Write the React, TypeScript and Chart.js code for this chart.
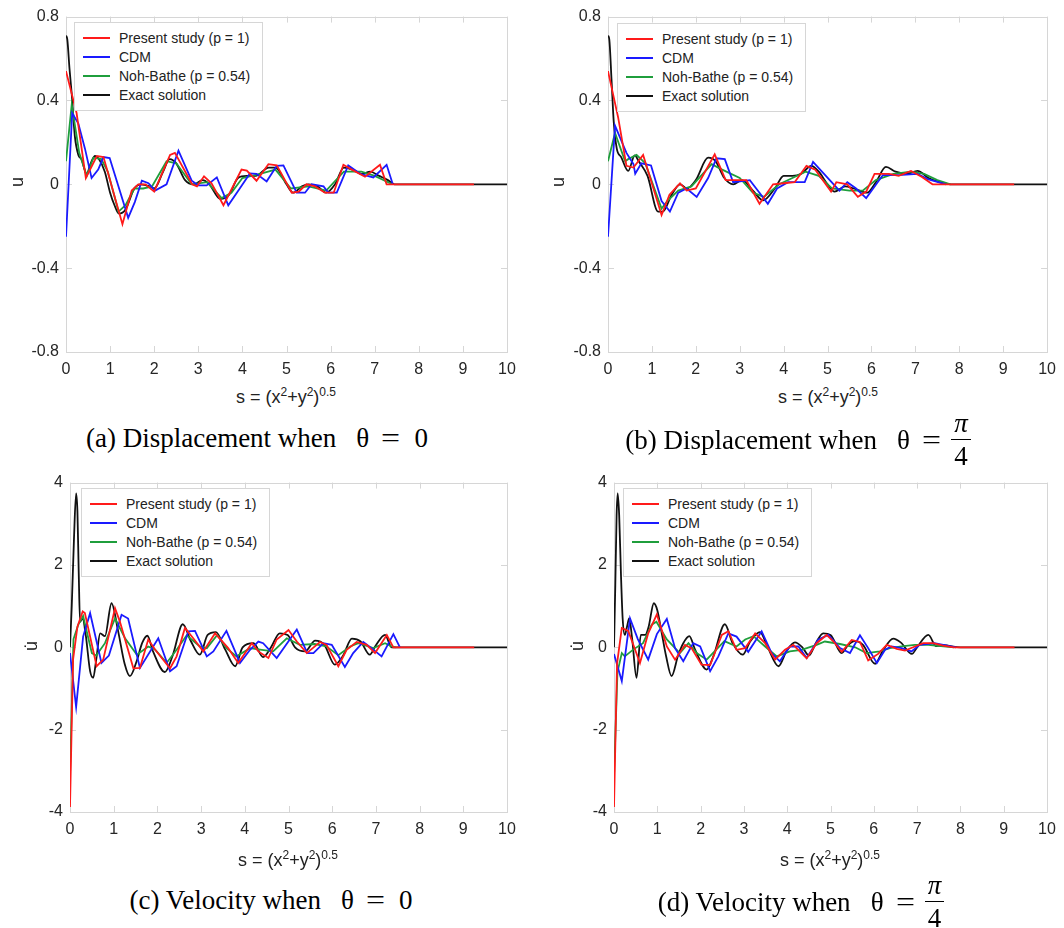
import React, { useEffect, useRef } from 'react';
import { Chart, registerables } from 'chart.js';

Chart.register(...registerables);

type Pt = [number, number];

const S_TICKS = [0, 1, 2, 3, 4, 5, 6, 7, 8, 9, 10];
const U_TICKS = [-0.8, -0.4, 0, 0.4, 0.8];
const V_TICKS = [-4, -2, 0, 2, 4];
const SERIES_LABELS = ['Present study (p = 1)', 'CDM', 'Noh-Bathe (p = 0.54)', 'Exact solution'];
const SERIES_COLORS = ['#ff1a1a', '#1a1aff', '#1f9e3c', '#111111'];

// (a) displacement, theta = 0
const A_PRESENT: Pt[] = [[0,0.54],[0.24,0.34],[0.45,0.03],[0.7,0.135],[0.85,0.13],[1.28,-0.19],[1.49,-0.03],[1.64,0],[1.8,0],[2.0,-0.035],[2.36,0.14],[2.47,0.15],[2.86,0],[2.97,-0.01],[3.13,0.038],[3.3,0.005],[3.57,-0.1],[3.98,0.07],[4.1,0.065],[4.32,0.017],[4.59,0.096],[4.78,0.09],[5.12,-0.04],[5.28,-0.035],[5.45,0],[5.65,-0.01],[5.87,-0.04],[6.07,-0.04],[6.29,0.093],[6.48,0.07],[6.78,0.036],[7.12,0.093],[7.27,0],[9.25,0]];
const A_CDM: Pt[] = [[0,-0.25],[0.14,0.34],[0.28,0.29],[0.43,0.17],[0.58,0.03],[0.73,0.07],[0.85,0.13],[0.99,0.125],[1.41,-0.16],[1.56,-0.085],[1.72,0.017],[1.87,0.005],[2.02,-0.03],[2.28,0],[2.55,0.16],[2.85,0.017],[3.0,-0.005],[3.19,-0.005],[3.42,0.033],[3.68,-0.1],[3.94,-0.02],[4.17,0.052],[4.32,0.05],[4.55,0.014],[4.78,0.088],[4.93,0.09],[5.23,-0.04],[5.42,-0.04],[5.57,0],[5.84,-0.01],[5.95,-0.04],[6.14,-0.04],[6.4,0.09],[6.67,0.05],[6.97,0.033],[7.27,0.093],[7.41,0]];
const A_NOH: Pt[] = [[0,0.11],[0.13,0.38],[0.3,0.15],[0.47,0.04],[0.62,0.127],[0.8,0.12],[0.95,0.06],[1.19,-0.13],[1.35,-0.1],[1.55,-0.02],[1.75,-0.02],[1.95,-0.01],[2.28,0.11],[2.5,0.1],[2.85,0],[3.2,0.01],[3.53,-0.066],[3.75,-0.04],[4.0,0.03],[4.4,0.05],[4.75,0.07],[5.1,-0.02],[5.5,-0.01],[5.9,-0.03],[6.3,0.06],[6.7,0.06],[7.0,0.04],[7.4,0]];
const A_EXACT: Pt[] = [[0,0.71],[0.03,0.69],[0.08,0.55],[0.13,0.43],[0.2,0.23],[0.28,0.14],[0.35,0.12],[0.47,0.05],[0.56,0.1],[0.66,0.135],[0.75,0.12],[0.88,0.06],[1.0,-0.04],[1.1,-0.1],[1.2,-0.14],[1.35,-0.12],[1.55,-0.02],[1.7,0.0],[1.9,-0.01],[2.0,-0.02],[2.2,0.06],[2.35,0.12],[2.5,0.1],[2.7,0.02],[2.9,0.0],[3.1,0.02],[3.25,0.0],[3.5,-0.07],[3.7,-0.05],[3.9,0.03],[4.1,0.04],[4.3,0.04],[4.6,0.08],[4.75,0.08],[5.0,0.0],[5.15,-0.04],[5.35,-0.01],[5.5,0.0],[5.7,-0.01],[5.9,-0.04],[6.1,0.0],[6.3,0.08],[6.5,0.07],[6.7,0.05],[6.9,0.06],[7.1,0.04],[7.3,0.02],[7.45,0],[10,0]];

// (b) displacement, theta = pi/4
const B_PRESENT: Pt[] = [[0,0.54],[0.23,0.32],[0.42,0.088],[0.58,0.08],[0.8,0.14],[1.22,-0.147],[1.4,-0.05],[1.64,0.005],[1.79,-0.03],[2.0,-0.02],[2.43,0.143],[2.68,0.02],[3.0,0.02],[3.15,0.02],[3.45,-0.093],[3.76,0],[4.0,0.005],[4.25,0.01],[4.52,0.088],[4.72,0.07],[5.08,-0.035],[5.2,0.01],[5.45,0.0],[5.69,-0.06],[5.88,-0.035],[6.07,0.05],[6.4,0.05],[6.62,0.04],[6.9,0.064],[7.15,0.035],[7.39,0],[9.25,0]];
const B_CDM: Pt[] = [[0,-0.25],[0.16,0.28],[0.42,0.15],[0.58,0.096],[0.62,0.05],[0.76,0.1],[0.98,0.09],[1.22,-0.08],[1.41,-0.13],[1.6,-0.04],[1.79,-0.02],[2.02,-0.06],[2.28,0.03],[2.47,0.124],[2.66,0.12],[2.85,0.01],[3.23,0.02],[3.45,-0.04],[3.64,-0.093],[3.85,-0.02],[4.1,0.01],[4.48,0.01],[4.67,0.107],[5.05,0.02],[5.27,-0.03],[5.45,0.01],[5.65,-0.02],[5.88,-0.066],[6.26,0.044],[6.7,0.045],[7.05,0.05],[7.28,0.025],[7.7,0]];
const B_NOH: Pt[] = [[0,0.11],[0.16,0.245],[0.39,0.11],[0.46,0.12],[0.65,0.14],[0.85,0.1],[1.22,-0.116],[1.35,-0.08],[1.6,-0.03],[1.9,-0.01],[2.36,0.096],[2.6,0.07],[3.0,0.03],[3.3,-0.04],[3.55,-0.06],[3.9,0],[4.2,0.03],[4.5,0.06],[4.8,0.04],[5.1,-0.02],[5.5,-0.03],[5.8,-0.03],[6.1,0.02],[6.5,0.05],[6.9,0.06],[7.2,0.05],[7.5,0.02],[7.8,0]];
const B_EXACT: Pt[] = [[0,0.71],[0.03,0.69],[0.08,0.5],[0.13,0.3],[0.2,0.17],[0.3,0.13],[0.46,0.064],[0.61,0.138],[0.7,0.11],[0.9,0.04],[1.14,-0.13],[1.25,-0.13],[1.45,-0.05],[1.64,0],[1.8,-0.02],[2.0,0.02],[2.28,0.127],[2.45,0.11],[2.65,0.03],[2.85,0.0],[3.05,0.02],[3.3,-0.03],[3.53,-0.077],[3.8,-0.02],[4.0,0.04],[4.2,0.04],[4.4,0.05],[4.63,0.088],[4.8,0.06],[5.0,0.0],[5.16,-0.035],[5.4,-0.01],[5.6,-0.02],[5.9,-0.04],[6.1,0.01],[6.33,0.083],[6.55,0.06],[6.8,0.05],[7.05,0.064],[7.3,0.03],[7.55,0.01],[7.8,0],[10,0]];

// (c) velocity, theta = 0
const C_PRESENT: Pt[] = [[0,-3.88],[0.07,-0.3],[0.17,0.5],[0.29,0.87],[0.34,0.83],[0.61,-0.46],[0.76,-0.3],[1.03,0.95],[1.14,0.63],[1.45,-0.51],[1.6,-0.5],[1.79,0.19],[1.95,-0.06],[2.29,-0.51],[2.44,-0.22],[2.63,0.47],[2.82,0.22],[3.05,-0.1],[3.32,0.34],[3.62,-0.02],[3.85,-0.38],[4.16,0.1],[4.31,-0.1],[4.54,-0.26],[4.73,0.19],[5.0,0.42],[5.19,0.14],[5.42,-0.14],[5.72,0.13],[5.87,0.06],[6.14,-0.46],[6.33,-0.06],[6.56,0.13],[6.79,0.06],[6.98,-0.14],[7.25,0.3],[7.4,0],[9.25,0]];
const C_CDM: Pt[] = [[0,-0.14],[0.14,-1.45],[0.3,0.26],[0.46,0.83],[0.72,-0.38],[0.89,-0.2],[1.18,0.79],[1.33,0.7],[1.6,-0.5],[2.02,0.22],[2.29,-0.58],[2.44,-0.46],[2.71,0.39],[2.86,0.4],[3.13,-0.22],[3.28,-0.1],[3.58,0.4],[3.89,-0.38],[4.12,-0.06],[4.31,0.14],[4.42,0.1],[4.73,-0.26],[5.19,0.43],[5.43,-0.14],[5.57,-0.14],[5.8,0.1],[5.99,0.06],[6.29,-0.48],[6.48,-0.14],[6.71,0.13],[6.9,-0.02],[7.13,-0.22],[7.4,0.32],[7.55,0]];
const C_NOH: Pt[] = [[0,-3.13],[0.08,0.2],[0.19,0.55],[0.3,0.76],[0.5,-0.14],[0.6,-0.2],[0.8,0.1],[1.03,0.7],[1.26,0.22],[1.53,-0.18],[1.79,0.02],[1.95,-0.06],[2.21,-0.38],[2.44,-0.06],[2.67,0.29],[2.97,0.02],[3.13,-0.02],[3.37,0.3],[3.58,-0.02],[3.81,-0.22],[4.12,-0.02],[4.39,-0.06],[4.65,-0.1],[4.96,0.22],[5.26,0.06],[5.6,0.08],[5.87,0.02],[6.14,-0.19],[6.41,0.02],[6.6,0.1],[6.94,-0.02],[7.21,0.1],[7.36,0.02],[7.45,0]];
const C_EXACT: Pt[] = [[0,0],[0.04,1.0],[0.09,2.6],[0.14,3.74],[0.17,3.3],[0.2,1.8],[0.23,0.62],[0.29,0.7],[0.36,0.3],[0.46,-0.58],[0.53,-0.74],[0.6,-0.3],[0.69,0.34],[0.8,0.27],[0.95,1.07],[1.1,0.4],[1.25,-0.4],[1.37,-0.7],[1.53,-0.32],[1.65,0.1],[1.77,0.28],[1.9,-0.1],[2.17,-0.6],[2.35,-0.2],[2.58,0.56],[2.77,0.14],[2.97,-0.18],[3.15,0.3],[3.34,0.37],[3.55,-0.05],[3.78,-0.46],[3.95,0.0],[4.2,0.1],[4.42,-0.24],[4.6,0.0],[4.8,0.34],[4.98,0.3],[5.15,0.0],[5.38,-0.1],[5.61,0.16],[5.82,0.06],[6.06,-0.42],[6.25,-0.2],[6.45,0.21],[6.65,0.14],[6.86,-0.18],[7.0,0.05],[7.21,0.3],[7.36,0],[10,0]];

// (d) velocity, theta = pi/4
const D_PRESENT: Pt[] = [[0,-3.88],[0.07,-0.4],[0.18,0.47],[0.33,0.4],[0.6,-0.38],[0.79,0.34],[0.99,0.8],[1.22,0.02],[1.41,-0.3],[1.64,0.06],[1.79,-0.02],[2.02,-0.42],[2.22,-0.43],[2.49,0.3],[2.64,0.39],[2.83,-0.06],[3.03,-0.02],[3.26,0.34],[3.49,0.1],[3.72,-0.3],[3.95,-0.06],[4.14,0.06],[4.45,-0.27],[4.68,0.1],[4.91,0.3],[5.07,0.14],[5.26,-0.11],[5.49,0.18],[5.68,0.13],[5.87,-0.32],[6.1,-0.16],[6.3,0.06],[6.53,-0.04],[6.72,-0.08],[6.95,0.02],[7.14,0.1],[7.37,0.1],[7.6,0.04],[7.85,0],[9.25,0]];
const D_CDM: Pt[] = [[0,-0.16],[0.18,-0.82],[0.37,0.7],[0.55,0.2],[0.79,-0.3],[0.99,0.32],[1.22,0.69],[1.41,-0.02],[1.6,-0.34],[1.83,0.1],[1.99,0.02],[2.22,-0.58],[2.41,-0.22],[2.64,0.34],[2.83,0.26],[3.1,-0.11],[3.41,0.39],[3.64,-0.14],[3.83,-0.34],[4.06,0.02],[4.26,0.02],[4.45,-0.26],[4.72,0.19],[4.95,0.3],[5.22,-0.02],[5.45,-0.14],[5.68,0.29],[5.87,-0.02],[6.07,-0.38],[6.26,-0.06],[6.41,0.02],[6.64,-0.02],[6.87,-0.1],[7.06,0.06],[7.4,0.1],[7.9,0]];
const D_NOH: Pt[] = [[0,-3.13],[0.08,-0.6],[0.18,-0.14],[0.25,-0.22],[0.45,-0.05],[0.67,0.1],[0.87,0.55],[0.98,0.62],[1.22,0.19],[1.52,-0.14],[1.72,0.1],[1.91,-0.14],[2.14,-0.3],[2.55,0.15],[2.83,0.02],[3.03,0.19],[3.22,0.27],[3.49,0.02],[3.76,-0.22],[4.06,-0.1],[4.33,-0.06],[4.68,0.06],[4.87,0.14],[5.22,0.08],[5.57,0],[5.83,-0.14],[6.14,-0.1],[6.37,-0.02],[6.64,0.02],[6.95,0.06],[7.26,0.06],[7.37,0.05],[7.85,0]];
const D_EXACT: Pt[] = [[0,0],[0.03,1.5],[0.06,3.2],[0.085,3.74],[0.12,3.2],[0.16,1.8],[0.2,0.7],[0.25,0.3],[0.3,0.5],[0.35,0.7],[0.42,0.2],[0.52,-0.74],[0.62,0.3],[0.72,0.3],[0.8,0.5],[0.92,1.07],[1.0,0.9],[1.1,0.36],[1.2,-0.2],[1.33,-0.7],[1.48,-0.2],[1.6,0.1],[1.74,0.27],[1.87,-0.05],[2.14,-0.54],[2.3,-0.2],[2.56,0.56],[2.74,0.1],[2.97,-0.18],[3.15,0.15],[3.37,0.37],[3.55,0.0],[3.8,-0.46],[3.98,-0.1],[4.18,0.12],[4.35,0.0],[4.5,-0.2],[4.66,0.1],[4.83,0.34],[5.0,0.3],[5.26,-0.14],[5.4,0.05],[5.56,0.15],[5.75,0.06],[6.03,-0.4],[6.2,-0.1],[6.45,0.21],[6.62,0.12],[6.88,-0.16],[7.0,0.0],[7.26,0.3],[7.44,0.03],[7.6,0.05],[8.0,0],[10,0]];

const FRAME_COLOR = '#d6d6d6';
const SANS = '"Liberation Sans", Arial, "DejaVu Sans", sans-serif';
const SERIF = '"Liberation Serif", "Times New Roman", serif';

const framePlugin = {
  id: 'frame',
  beforeDatasetsDraw(chart: any) {
    const { ctx, chartArea: a, scales } = chart;
    ctx.save();
    ctx.strokeStyle = FRAME_COLOR;
    ctx.lineWidth = 1;
    ctx.strokeRect(Math.round(a.left) + 0.5, Math.round(a.top) + 0.5, Math.round(a.right - a.left), Math.round(a.bottom - a.top));
    const tl = 6;
    ctx.beginPath();
    scales.x.ticks.forEach((t: any) => {
      const x = Math.round(scales.x.getPixelForValue(t.value)) + 0.5;
      ctx.moveTo(x, a.bottom); ctx.lineTo(x, a.bottom - tl);
      ctx.moveTo(x, a.top); ctx.lineTo(x, a.top + tl);
    });
    scales.y.ticks.forEach((t: any) => {
      const y = Math.round(scales.y.getPixelForValue(t.value)) + 0.5;
      ctx.moveTo(a.left, y); ctx.lineTo(a.left + tl, y);
      ctx.moveTo(a.right, y); ctx.lineTo(a.right - tl, y);
    });
    ctx.stroke();
    ctx.restore();
  },
};

type PanelProps = {
  left: number; top: number; w: number; h: number;
  area: { l: number; t: number; r: number; b: number };
  yTicks: number[];
  series: Pt[][];
};

function ChartPanel({ left, top, w, h, area, yTicks, series }: PanelProps) {
  const ref = useRef<HTMLCanvasElement>(null);
  useEffect(() => {
    const datasets = series.map((pts, i) => ({
      label: SERIES_LABELS[i],
      data: pts.map(([x, y]) => ({ x, y })),
      borderColor: SERIES_COLORS[i],
      backgroundColor: SERIES_COLORS[i],
      borderWidth: 1.8,
      pointRadius: 0,
      fill: false,
      tension: 0,
      cubicInterpolationMode: i === 3 ? 'monotone' : 'default',
    }));
    const tickFont = { family: SANS, size: 16 };
    const chart = new Chart(ref.current as HTMLCanvasElement, {
      type: 'line',
      data: { datasets: datasets as any },
      options: {
        animation: false,
        responsive: false,
        maintainAspectRatio: false,
        layout: { padding: { left: 0, top: area.t, right: w - area.r, bottom: 0 } },
        plugins: { legend: { display: false }, tooltip: { enabled: false } },
        scales: {
          x: {
            type: 'linear',
            min: S_TICKS[0],
            max: S_TICKS[S_TICKS.length - 1],
            afterBuildTicks: (s: any) => { s.ticks = S_TICKS.map((v) => ({ value: v })); },
            afterFit: (s: any) => { s.height = h - area.b; },
            grid: { display: false, drawTicks: false },
            border: { display: false },
            ticks: { padding: 8, color: '#262626', font: tickFont, maxRotation: 0, autoSkip: false, callback: (v: any) => String(v) },
          },
          y: {
            type: 'linear',
            min: yTicks[0],
            max: yTicks[yTicks.length - 1],
            afterBuildTicks: (s: any) => { s.ticks = yTicks.map((v) => ({ value: v })); },
            afterFit: (s: any) => { s.width = area.l; },
            grid: { display: false, drawTicks: false },
            border: { display: false },
            ticks: { padding: 7, color: '#262626', font: tickFont, autoSkip: false, callback: (v: any) => String(v) },
          },
        },
      } as any,
      plugins: [framePlugin],
    });
    return () => chart.destroy();
  }, []);
  return <canvas ref={ref} width={w} height={h} style={{ position: 'absolute', left, top, width: w, height: h }} />;
}

function Legend({ left, top }: { left: number; top: number }) {
  return (
    <div style={{ position: 'absolute', left, top, background: '#fff', border: `1px solid ${FRAME_COLOR}`, padding: '5px 12px 6px 8px', fontFamily: SANS, fontSize: 14, color: '#222', whiteSpace: 'nowrap' }}>
      {SERIES_LABELS.map((l, i) => (
        <div key={l} style={{ display: 'flex', alignItems: 'center', height: 19 }}>
          <div style={{ width: 27, height: 2, flexShrink: 0, background: SERIES_COLORS[i], marginRight: 9 }} />
          <span>{l}</span>
        </div>
      ))}
    </div>
  );
}

function XTitle({ cx, top }: { cx: number; top: number }) {
  return (
    <div style={{ position: 'absolute', left: cx - 120, width: 240, top, textAlign: 'center', fontFamily: SANS, fontSize: 18, color: '#222', lineHeight: '22px' }}>
      s = (x<sup style={{ fontSize: 12 }}>2</sup>+y<sup style={{ fontSize: 12 }}>2</sup>)<sup style={{ fontSize: 12 }}>0.5</sup>
    </div>
  );
}

function YTitle({ cx, cy, text }: { cx: number; cy: number; text: string }) {
  return (
    <div style={{ position: 'absolute', left: cx - 20, top: cy - 12, width: 40, height: 24, lineHeight: '24px', textAlign: 'center', transform: 'rotate(-90deg)', fontFamily: SANS, fontSize: 18, color: '#222' }}>{text}</div>
  );
}

function Frac() {
  return (
    <span style={{ display: 'inline-flex', flexDirection: 'column', alignItems: 'center', verticalAlign: 'middle', marginLeft: 12, lineHeight: 1.0 }}>
      <span style={{ fontStyle: 'italic', borderBottom: '1.5px solid #000', padding: '0 3px 2px 3px' }}>π</span>
      <span style={{ paddingTop: 3 }}>4</span>
    </span>
  );
}

function Caption({ cx, cy, label, frac }: { cx: number; cy: number; label: string; frac?: boolean }) {
  return (
    <div style={{ position: 'absolute', left: cx - 300, width: 600, top: cy - 18, height: 36, display: 'flex', justifyContent: 'center', alignItems: 'center', fontFamily: SERIF, fontSize: 27, color: '#000', whiteSpace: 'pre' }}>
      <span>{label}</span>
      <span style={{ marginLeft: 20 }}>θ</span>
      <span style={{ marginLeft: 14, transform: 'scaleX(1.25)' }}>=</span>
      {frac ? <Frac /> : <span style={{ marginLeft: 16 }}>0</span>}
    </div>
  );
}

export default function App() {
  return (
    <div style={{ position: 'absolute', left: 0, top: 0, width: 1064, height: 928, background: '#fff', overflow: 'hidden' }}>
      <ChartPanel left={0} top={0} w={532} h={380} area={{ l: 66, t: 12, r: 507, b: 352 }} yTicks={U_TICKS} series={[A_PRESENT, A_CDM, A_NOH, A_EXACT]} />
      <ChartPanel left={540} top={0} w={524} h={380} area={{ l: 68, t: 12, r: 508, b: 352 }} yTicks={U_TICKS} series={[B_PRESENT, B_CDM, B_NOH, B_EXACT]} />
      <ChartPanel left={0} top={466} w={532} h={380} area={{ l: 70, t: 14, r: 507, b: 346 }} yTicks={V_TICKS} series={[C_PRESENT, C_CDM, C_NOH, C_EXACT]} />
      <ChartPanel left={540} top={466} w={524} h={380} area={{ l: 74, t: 14, r: 507, b: 346 }} yTicks={V_TICKS} series={[D_PRESENT, D_CDM, D_NOH, D_EXACT]} />

      <Legend left={74} top={22} />
      <Legend left={617} top={23} />
      <Legend left={81} top={488} />
      <Legend left={623} top={488} />

      <YTitle cx={17} cy={182} text="u" />
      <YTitle cx={558} cy={182} text="u" />
      <YTitle cx={31} cy={646} text={'u\u0307'} />
      <YTitle cx={577} cy={646} text={'u\u0307'} />

      <XTitle cx={286} top={381} />
      <XTitle cx={828} top={381} />
      <XTitle cx={288} top={844} />
      <XTitle cx={830} top={844} />

      <Caption cx={257} cy={438} label="(a) Displacement when" />
      <Caption cx={798} cy={440} label="(b) Displacement when" frac />
      <Caption cx={271} cy={900} label="(c) Velocity when" />
      <Caption cx={801} cy={902} label="(d) Velocity when" frac />
    </div>
  );
}
